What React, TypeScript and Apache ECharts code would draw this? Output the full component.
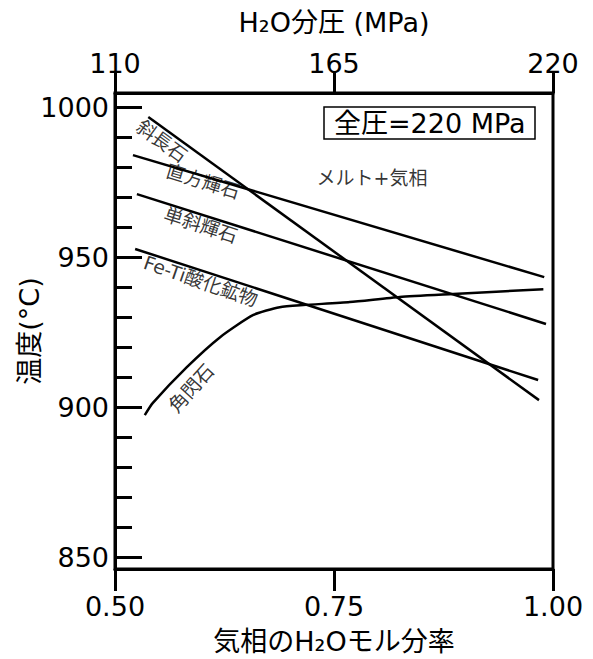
import React, { useEffect, useRef } from "react";
import * as echarts from "echarts";

const FONT = "'DejaVu Sans', 'Noto Sans CJK JP', sans-serif";

// axis ticks
const bottomTicks = [0.5, 0.75, 1.0];
const topTicks = [110, 165, 220];
const majorTempTicks = [850, 900, 950, 1000];
const minorTempTicks = [860, 870, 880, 890, 910, 920, 930, 940, 960, 970, 980, 990];

// phase boundary lines: [H2O mole fraction of vapour, temperature °C]
const plagioclase = [[0.538, 996.7], [0.984, 902.3]];
const orthopyroxene = [[0.5205, 984], [0.99, 943.3]];
const clinopyroxene = [[0.525, 971], [0.992, 927.7]];
const feTiOxide = [[0.523, 952.7], [0.983, 909]];
const amphibole = [
  [0.534, 897.3], [0.543, 901.3], [0.582, 913.3], [0.62, 923.3], [0.658, 930.7],
  [0.688, 933.3], [0.715, 934], [0.768, 935], [0.825, 936.7], [0.886, 937.7], [0.989, 939.3],
];

// phase labels
const labelNames = ["斜長石", "直方輝石", "単斜輝石", "Fe-Ti酸化鉱物", "角閃石", "メルト+気相"];
const labelX = [0.5537, 0.6005, 0.598, 0.598, 0.5868, 0.7934];
const labelY = [988.7, 975.3, 960.7, 942, 906.3, 976.3];
const labelAngle = [-36, -17, -18, -19, 48, 0];

const totalPressure = "全圧=220 MPa";

export default function App() {
  const ref = useRef<HTMLDivElement>(null);
  useEffect(() => {
    if (!ref.current) return;
    const chart = echarts.init(ref.current, null, { renderer: "svg" });
    const lineSeries = (name: string, data: number[][], smooth: boolean | number = false) => ({
      name,
      type: "line",
      data,
      smooth,
      symbol: "none",
      xAxisIndex: 0,
      yAxisIndex: 0,
      lineStyle: { color: "#000", width: 2.5 },
      z: 3,
    });
    chart.setOption({
      animation: false,
      backgroundColor: "#fff",
      textStyle: { fontFamily: FONT, color: "#000" },
      title: {
        text: totalPressure,
        left: 324,
        top: 107,
        padding: [3, 10, 2, 10],
        borderColor: "#000",
        borderWidth: 1.5,
        textStyle: { fontFamily: FONT, fontSize: 27, fontWeight: "normal", color: "#000" },
      },
      grid: {
        left: 115,
        right: 40,
        top: 93,
        bottom: 90,
        show: true,
        borderColor: "#000",
        borderWidth: 3,
        containLabel: false,
        outerBoundsMode: "none",
      },
      xAxis: [
        {
          type: "value",
          position: "bottom",
          min: 0.5,
          max: 1.0,
          interval: 0.25,
          name: "気相のH₂Oモル分率",
          nameLocation: "middle",
          nameGap: 59,
          nameMoveOverlap: false,
          nameTextStyle: { fontFamily: FONT, fontSize: 27, color: "#000" },
          axisLine: { show: true, lineStyle: { color: "#000", width: 3 } },
          axisTick: { show: true, inside: false, length: 22, lineStyle: { color: "#000", width: 3 }, customValues: bottomTicks },
          axisLabel: {
            fontFamily: FONT, fontSize: 27, color: "#000", margin: 24,
            customValues: bottomTicks,
            formatter: (v: number) => v.toFixed(2),
          },
          splitLine: { show: false },
        },
        {
          type: "value",
          position: "top",
          min: 110,
          max: 220,
          interval: 55,
          name: "H₂O分圧 (MPa)",
          nameLocation: "middle",
          nameGap: 57,
          nameMoveOverlap: false,
          nameTextStyle: { fontFamily: FONT, fontSize: 27, color: "#000" },
          axisLine: { show: true, lineStyle: { color: "#000", width: 3 } },
          axisTick: { show: true, inside: false, length: 22, lineStyle: { color: "#000", width: 3 }, customValues: topTicks },
          axisLabel: { fontFamily: FONT, fontSize: 27, color: "#000", margin: 16, customValues: topTicks },
          splitLine: { show: false },
        },
      ],
      yAxis: [
        {
          type: "value",
          position: "left",
          min: 846,
          max: 1004.7,
          name: "温度(°C)",
          nameLocation: "middle",
          nameRotate: 90,
          nameGap: 72,
          nameMoveOverlap: false,
          nameTextStyle: { fontFamily: FONT, fontSize: 27, color: "#000" },
          axisLine: { show: true, lineStyle: { color: "#000", width: 3 } },
          axisTick: { show: true, inside: true, length: 27, lineStyle: { color: "#000", width: 3 }, customValues: majorTempTicks },
          axisLabel: {
            fontFamily: FONT, fontSize: 27, color: "#000", margin: 6,
            customValues: majorTempTicks,
            formatter: (v: number) => String(v),
          },
          splitLine: { show: false },
        },
        {
          type: "value",
          position: "left",
          min: 846,
          max: 1004.7,
          axisLine: { show: false },
          axisTick: { show: true, inside: true, length: 17, lineStyle: { color: "#000", width: 3 }, customValues: minorTempTicks },
          axisLabel: { show: false },
          splitLine: { show: false },
        },
      ],
      series: [
        lineSeries("斜長石", plagioclase),
        lineSeries("直方輝石", orthopyroxene),
        lineSeries("単斜輝石", clinopyroxene),
        lineSeries("Fe-Ti酸化鉱物", feTiOxide),
        lineSeries("角閃石", amphibole, 0.2),
        {
          name: "labels",
          type: "scatter",
          symbolSize: 0,
          xAxisIndex: 0,
          yAxisIndex: 0,
          z: 4,
          silent: true,
          data: labelNames.map((n, i) => ({
            name: n,
            value: [labelX[i], labelY[i]],
            label: {
              show: true,
              position: "inside",
              formatter: n,
              rotate: labelAngle[i],
              fontFamily: FONT,
              fontSize: 19,
              color: "#000",
            },
          })),
        },
      ],
    });
    return () => chart.dispose();
  }, []);
  return (
    <div
      ref={ref}
      style={{ position: "fixed", left: 0, top: 0, width: 593, height: 659, background: "#fff" }}
    />
  );
}
